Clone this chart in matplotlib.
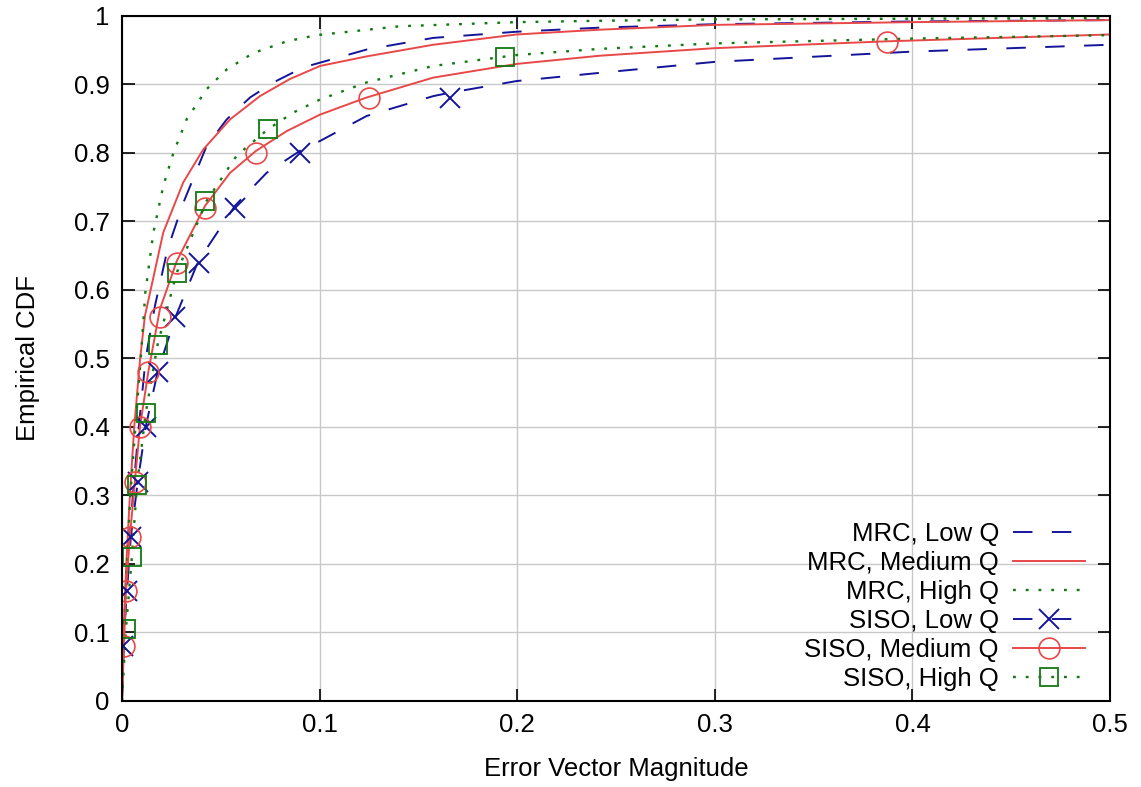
import matplotlib.pyplot as plt

plt.rcParams['font.family'] = ['Liberation Sans', 'DejaVu Sans']

# MRC curves
mrc_low_x = [0, 0.0012, 0.003, 0.0055, 0.0085, 0.012, 0.0167, 0.023, 0.031, 0.0428,
             0.053, 0.0648, 0.0766, 0.0918, 0.1238, 0.1575, 0.1997, 0.2419, 0.3, 0.4, 0.5]
mrc_low_y = [0, 0.1, 0.2, 0.3, 0.4, 0.5, 0.577, 0.659, 0.727, 0.810,
             0.849, 0.881, 0.903, 0.925, 0.951, 0.968, 0.977, 0.983, 0.988, 0.992, 0.994]

mrc_med_x = [0, 0.0008, 0.0022, 0.004, 0.0062, 0.0092, 0.0116, 0.0209, 0.031, 0.0411,
             0.0547, 0.0698, 0.085, 0.1002, 0.1238, 0.1575, 0.1997, 0.2419, 0.3, 0.4, 0.5]
mrc_med_y = [0, 0.1, 0.2, 0.3, 0.4, 0.5, 0.562, 0.684, 0.757, 0.805,
             0.849, 0.883, 0.908, 0.927, 0.941, 0.958, 0.973, 0.980, 0.987, 0.991, 0.994]

mrc_high_x = [0, 0.001, 0.0025, 0.0042, 0.0068, 0.0095, 0.0118, 0.0159, 0.0209, 0.026,
              0.0327, 0.0428, 0.053, 0.0665, 0.0834, 0.0985, 0.1407, 0.1997, 0.2419,
              0.3, 0.4, 0.5]
mrc_high_y = [0, 0.1, 0.2, 0.3, 0.4, 0.5, 0.596, 0.684, 0.752, 0.800,
              0.849, 0.893, 0.922, 0.946, 0.963, 0.972, 0.985, 0.991, 0.993,
              0.995, 0.996, 0.997]

# SISO curves
siso_low_x = [0, 0.0005, 0.0025, 0.0045, 0.008, 0.012, 0.018, 0.027, 0.0386, 0.0572,
              0.0732, 0.090, 0.1002, 0.1238, 0.1575, 0.166, 0.1997, 0.2419, 0.3, 0.4, 0.5]
siso_low_y = [0, 0.08, 0.16, 0.24, 0.32, 0.40, 0.48, 0.56, 0.642, 0.723,
              0.771, 0.803, 0.8175, 0.854, 0.883, 0.888, 0.905, 0.917, 0.933, 0.948, 0.958]

siso_med_x = [0, 0.001, 0.002, 0.004, 0.0066, 0.0091, 0.0133, 0.0192, 0.0277, 0.042,
              0.0547, 0.0678, 0.0834, 0.1002, 0.1238, 0.1575, 0.1997, 0.2419, 0.3,
              0.387, 0.5]
siso_med_y = [0, 0.08, 0.16, 0.24, 0.3226, 0.40, 0.48, 0.572, 0.642, 0.7226,
              0.771, 0.803, 0.832, 0.856, 0.881, 0.910, 0.930, 0.942, 0.953,
              0.963, 0.973]

siso_high_x = [0, 0.002, 0.005, 0.0076, 0.012, 0.018, 0.0277, 0.0428, 0.058, 0.074,
               0.0867, 0.1002, 0.1238, 0.1575, 0.1997, 0.2419, 0.3, 0.4, 0.5]
siso_high_y = [0, 0.105, 0.21, 0.315, 0.42, 0.52, 0.625, 0.730, 0.796, 0.835,
               0.859, 0.878, 0.903, 0.927, 0.943, 0.952, 0.960, 0.967, 0.972]

# marker positions
siso_low_mx = [0.0005, 0.0025, 0.0045, 0.008, 0.012, 0.018, 0.027, 0.039, 0.057, 0.090, 0.166]
siso_low_my = [0.08, 0.16, 0.24, 0.32, 0.40, 0.48, 0.56, 0.64, 0.72, 0.80, 0.88]
siso_med_mx = [0.001, 0.002, 0.004, 0.0066, 0.0091, 0.0133, 0.0192, 0.0277, 0.042, 0.068, 0.125, 0.387]
siso_med_my = [0.08, 0.16, 0.24, 0.32, 0.40, 0.48, 0.56, 0.64, 0.72, 0.80, 0.88, 0.962]
siso_high_mx = [0.002, 0.005, 0.0076, 0.012, 0.018, 0.028, 0.042, 0.074, 0.194]
siso_high_my = [0.105, 0.21, 0.315, 0.42, 0.52, 0.625, 0.73, 0.835, 0.94]

blue = '#14149a'
red = '#e84848'
green = '#117a11'
dash = (10, 10)
dot = (1.2, 4.2)
fs = 18.5

fig = plt.figure(figsize=(11.41, 7.87), dpi=100)
ax = fig.add_axes([0.1069, 0.1093, 0.866, 0.8704])

ax.plot(mrc_low_x, mrc_low_y, color=blue, lw=1.4, dashes=dash, label='MRC, Low Q')
ax.plot(mrc_med_x, mrc_med_y, color=red, lw=1.4, label='MRC, Medium Q')
ax.plot(mrc_high_x, mrc_high_y, color=green, lw=1.7, dashes=dot, label='MRC, High Q')

ax.plot(siso_low_x, siso_low_y, color=blue, lw=1.4, dashes=dash)
ax.plot(siso_med_x, siso_med_y, color=red, lw=1.4)
ax.plot(siso_high_x, siso_high_y, color=green, lw=1.7, dashes=dot)

ax.plot(siso_low_mx, siso_low_my, ls='none', marker='x', ms=14, mew=1.4, color=blue)
ax.plot(siso_med_mx, siso_med_my, ls='none', marker='o', ms=15, mew=1.2, mfc='none', color=red)
ax.plot(siso_high_mx, siso_high_my, ls='none', marker='s', ms=13, mew=1.3, mfc='none', color=green)

# legend proxies
ax.plot([], [], color=blue, lw=1.4, dashes=dash, marker='x', ms=14, mew=1.4, label='SISO, Low Q')
ax.plot([], [], color=red, lw=1.4, marker='o', ms=15, mew=1.2, mfc='none', label='SISO, Medium Q')
ax.plot([], [], color=green, lw=1.7, dashes=dot, marker='s', ms=13, mew=1.3, mfc='none', label='SISO, High Q')

ax.set_xlim(0, 0.5)
ax.set_ylim(0, 1)
ax.set_xticks([0, 0.1, 0.2, 0.3, 0.4, 0.5])
ax.set_xticklabels(['0', '0.1', '0.2', '0.3', '0.4', '0.5'])
ax.set_yticks([i / 10 for i in range(11)])
ax.set_yticklabels(['0'] + [f'0.{i}' for i in range(1, 10)] + ['1'])
ax.grid(True, color='#c8c8c8', lw=1)
ax.set_axisbelow(True)
ax.tick_params(direction='in', length=9, width=1.2, top=True, right=True, labelsize=fs, pad=9)
for s in ax.spines.values():
    s.set_linewidth(1.5)

ax.set_xlabel('Error Vector Magnitude', fontsize=fs, labelpad=14)
ax.set_ylabel('Empirical CDF', fontsize=fs, labelpad=24)

ax.legend(loc='lower right', frameon=False, markerfirst=False, fontsize=fs,
          handlelength=2.8, labelspacing=0.19, borderaxespad=0.0, handletextpad=0.55,
          bbox_to_anchor=(0.985, 0.0))

fig.savefig('out.png')
